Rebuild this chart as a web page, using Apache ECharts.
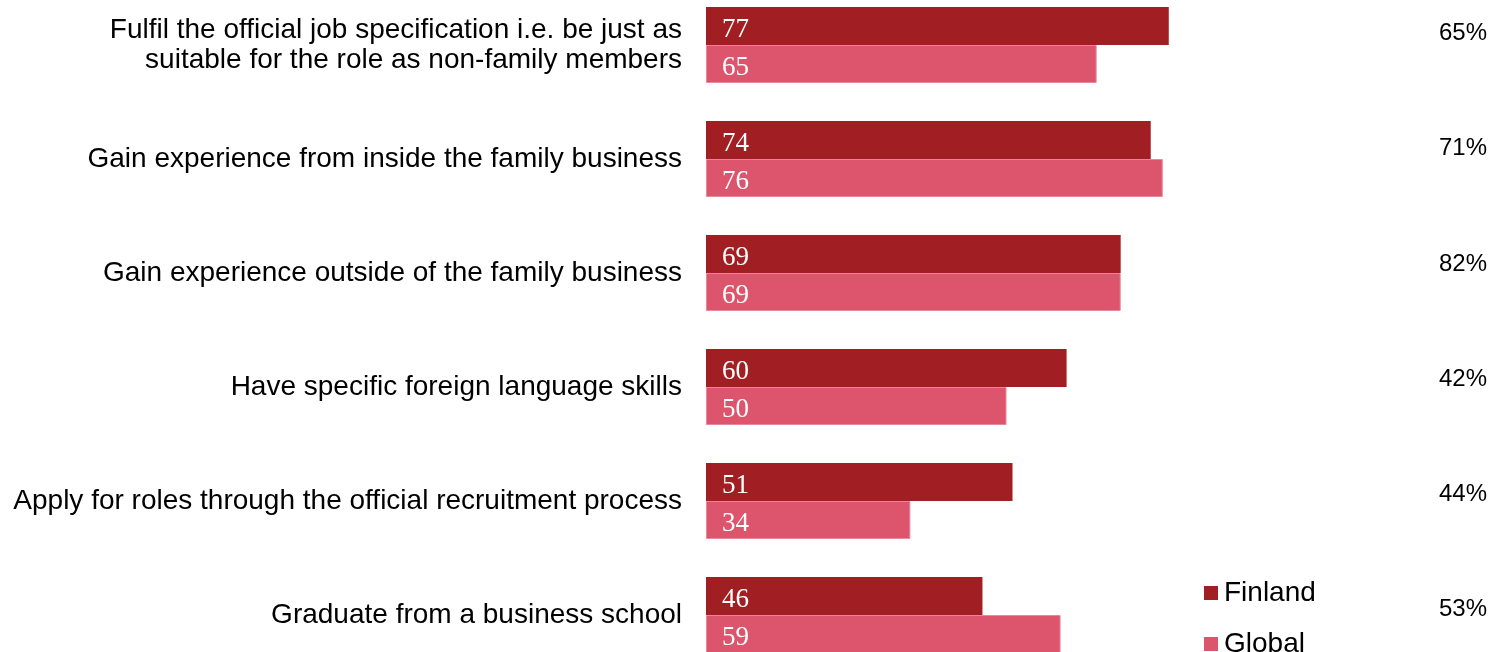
<!DOCTYPE html>
<html>
<head>
<meta charset="utf-8">
<title>Family business entry requirements</title>
<script src="https://cdn.jsdelivr.net/npm/echarts@6/dist/echarts.min.js"></script>
<style>
  html, body { margin: 0; padding: 0; background: #ffffff; overflow: hidden; width: 1492px; height: 652px; }
  /* the plot runs slightly past the bottom edge, so the canvas is taller than the page */
  #chart { position: absolute; left: 0; top: -24px; width: 1492px; height: 710px; }
</style>
</head>
<body>
<div id="chart"></div>
<script>
// Requirements for family members joining the business (% agreeing)
const categories = [
  'Fulfil the official job specification i.e. be just as\nsuitable for the role as non-family members',
  'Gain experience from inside the family business',
  'Gain experience outside of the family business',
  'Have specific foreign language skills',
  'Apply for roles through the official recruitment process',
  'Graduate from a business school'
];
const finland = [77, 74, 69, 60, 51, 46];
const global = [65, 76, 69, 50, 34, 59];
const sideShares = ['65%', '71%', '82%', '42%', '44%', '53%'];

const sans = '"Liberation Sans", Arial, sans-serif';
const serif = '"Liberation Serif", "DejaVu Serif", serif';

const chart = echarts.init(document.getElementById('chart'), null, { renderer: 'canvas' });

const valueLabel = {
  show: true,
  position: 'insideLeft',
  distance: 16,
  offset: [0, 4],
  color: '#ffffff',
  fontFamily: serif,
  fontSize: 27
};

chart.setOption({
  animation: false,
  backgroundColor: '#ffffff',
  grid: [
    { left: 706, top: 12, width: 601, height: 684, containLabel: false },
    { left: 706, top: 0, width: 601, height: 691, containLabel: false }
  ],
  legend: {
    orient: 'vertical',
    left: 1204,
    top: 603,
    height: 100,
    padding: 0,
    icon: 'rect',
    itemWidth: 14,
    itemHeight: 14,
    itemGap: 23,
    itemStyle: { borderWidth: 0 },
    textStyle: { fontFamily: sans, fontSize: 28, lineHeight: 28, color: '#000000', padding: [0, 0, 0, 1] },
    data: ['Finland', 'Global']
  },
  xAxis: [
    { type: 'value', gridIndex: 0, min: 0, max: 100, show: false },
    { type: 'value', gridIndex: 1, min: 0, max: 100, show: false }
  ],
  yAxis: [
    {
      type: 'category',
      gridIndex: 0,
      inverse: true,
      data: categories,
      axisLine: { show: false },
      axisTick: { show: false },
      splitLine: { show: false },
      axisLabel: {
        margin: 24,
        fontFamily: sans,
        fontSize: 28,
        lineHeight: 30,
        color: '#000000',
        align: 'right'
      }
    },
    {
      type: 'category',
      gridIndex: 1,
      inverse: true,
      position: 'right',
      data: sideShares,
      axisLine: { show: false },
      axisTick: { show: false },
      splitLine: { show: false },
      axisLabel: {
        margin: 180,
        align: 'right',
        fontFamily: sans,
        fontSize: 24,
        color: '#000000'
      }
    }
  ],
  series: [
    {
      name: 'Finland',
      type: 'bar',
      xAxisIndex: 0,
      yAxisIndex: 0,
      data: finland,
      barGap: '0%',
      barCategoryGap: '33.33%',
      itemStyle: { color: '#A11F22' },
      label: valueLabel
    },
    {
      name: 'Global',
      type: 'bar',
      xAxisIndex: 0,
      yAxisIndex: 0,
      data: global,
      barGap: '0%',
      barCategoryGap: '33.33%',
      itemStyle: { color: '#DC556D', borderColor: '#E7889A', borderWidth: 1 },
      label: valueLabel
    }
  ]
});
</script>
</body>
</html>
